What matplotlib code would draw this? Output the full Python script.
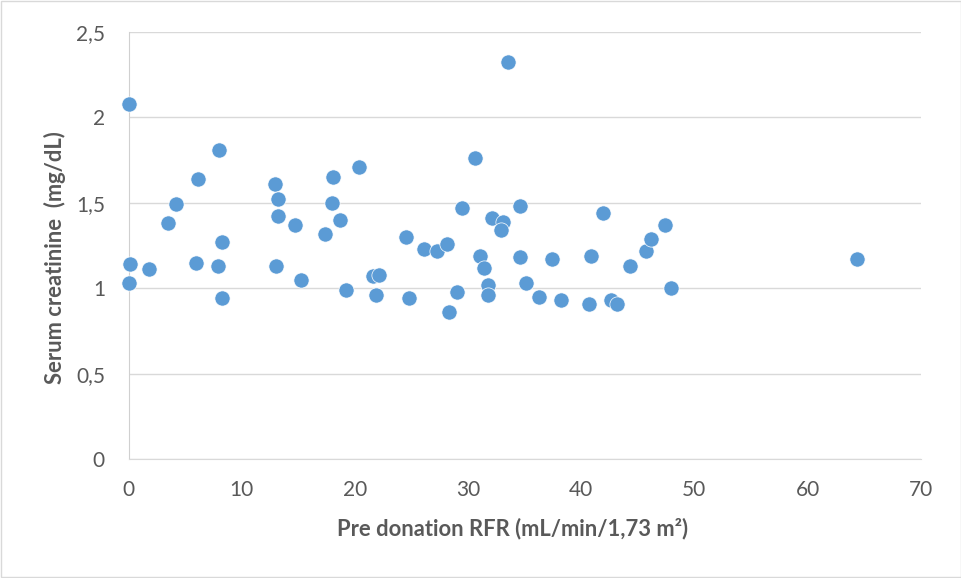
import matplotlib.pyplot as plt
from matplotlib.patches import Rectangle
from matplotlib.ticker import FuncFormatter

# pre-donation RFR (mL/min/1,73 m2) and serum creatinine (mg/dL)
rfr = [0.0, 0.1, 0.0, 1.8, 3.5, 4.2, 6.1, 6.0, 8.0, 7.9, 8.3, 8.3,
       12.9, 13.2, 13.2, 13.0, 14.7, 15.2, 17.4, 18.1, 18.0, 18.7,
       19.2, 20.4, 21.6, 22.1, 21.9, 24.5, 24.8, 26.1, 27.3, 28.1,
       28.3, 29.0, 29.5, 30.6, 33.5, 31.1, 31.4, 31.8, 31.8, 32.1,
       33.1, 32.9, 34.6, 34.6, 35.1, 36.3, 37.4, 38.2, 40.9, 40.7,
       41.9, 42.6, 43.2, 44.3, 45.7, 46.2, 47.4, 47.9, 64.4]
creat = [2.08, 1.14, 1.03, 1.11, 1.38, 1.49, 1.64, 1.15, 1.81, 1.13, 1.27, 0.94,
         1.61, 1.52, 1.42, 1.13, 1.37, 1.05, 1.32, 1.65, 1.50, 1.40,
         0.99, 1.71, 1.07, 1.08, 0.96, 1.30, 0.94, 1.23, 1.22, 1.26,
         0.86, 0.98, 1.47, 1.76, 2.32, 1.19, 1.12, 1.02, 0.96, 1.41,
         1.39, 1.34, 1.48, 1.18, 1.03, 0.95, 1.17, 0.93, 1.19, 0.91,
         1.44, 0.93, 0.91, 1.13, 1.22, 1.29, 1.37, 1.00, 1.17]

x_ticks = [0, 10, 20, 30, 40, 50, 60, 70]
y_ticks = [0, 0.5, 1, 1.5, 2, 2.5]

plt.rcParams['font.family'] = ['Lato', 'DejaVu Sans']
grey = '#595959'

fig = plt.figure(figsize=(9.62, 5.78), dpi=100)
fig.patches.append(Rectangle((0.001, 0.001), 0.998, 0.997, transform=fig.transFigure,
                             fill=False, edgecolor='#D9D9D9', linewidth=1.0))
ax = fig.add_axes([0.1336, 0.2054, 0.8235, 0.7398])

ax.scatter(rfr, creat, s=120, color='#5B9BD5', edgecolors='white',
           linewidths=0.5, zorder=3, clip_on=False)

ax.set_xlim(0, 70)
ax.set_ylim(0, 2.5)
ax.set_xticks(x_ticks)
ax.set_yticks(y_ticks)
ax.yaxis.set_major_formatter(FuncFormatter(lambda v, p: ('%g' % v).replace('.', ',')))

ax.grid(axis='y', color='#D9D9D9', linewidth=1.0)
ax.set_axisbelow(True)
for side in ['top', 'right']:
    ax.spines[side].set_visible(False)
ax.spines['left'].set_color('#D0D0D0')
ax.spines['bottom'].set_color('#D9D9D9')
ax.tick_params(length=0, labelsize=15, colors=grey)
ax.tick_params(axis='x', pad=15)
ax.tick_params(axis='y', pad=17)

ax.set_xlabel('Pre donation RFR (mL/min/1,73 m²)', fontsize=15.8,
              fontweight='bold', color=grey)
ax.set_ylabel('Serum creatinine  (mg/dL)', fontsize=15.8,
              fontweight='bold', color=grey)
ax.xaxis.set_label_coords(0.485, -0.137)
ax.yaxis.set_label_coords(-0.079, 0.471)

fig.savefig('out.png', dpi=100)
